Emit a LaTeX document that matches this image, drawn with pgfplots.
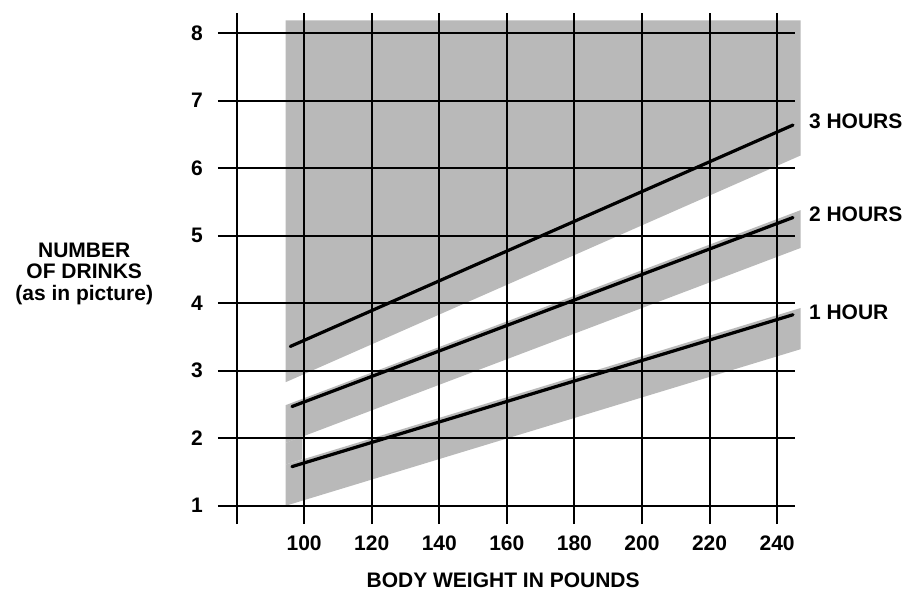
\documentclass[border=0pt]{standalone}
\usepackage{fontspec}
\setmainfont{Liberation Sans}
\usepackage{pgfplots}
\pgfplotsset{compat=1.18}
\definecolor{band}{RGB}{185,185,185}
\newcommand\lab{\fontsize{21bp}{25bp}\selectfont\bfseries}
\begin{document}
\begin{tikzpicture}
\useasboundingbox (-218bp,-70bp) rectangle (693bp,524bp);
\begin{axis}[at={(0,0)}, anchor=south west, scale only axis, width=577bp, height=511bp,
 xmin=74.5, xmax=245.3, ymin=0.73, ymax=8.3,
 xtick={80,100,...,240}, xticklabels={{},100,120,140,160,180,200,220,240},
 ytick={1,...,8}, yticklabels={1,2,3,4,5,6,7,8},
 grid=major, major grid style={black, line width=2bp},
 major tick length=0pt, axis line style={draw=none},
 axis on top, clip=false,
 xticklabel style={font=\lab, anchor=north, inner sep=0pt, yshift=-11.5bp},
 yticklabel style={font=\lab, anchor=east, inner sep=0pt, xshift=-15bp},
]
% grey shading
\addplot[fill=band, draw=none] coordinates {(94.5,8.19) (247,8.19) (247,6.19) (94.5,2.83)} -- cycle;
\addplot[fill=band, draw=none] coordinates {(94.5,2.49) (247,5.38) (247,4.82) (94.5,1.93)} -- cycle;
\addplot[fill=band, draw=none] coordinates {(94.5,1.61) (247,3.93) (247,3.32) (94.5,1.0)} -- cycle;
\addplot[fill=band, draw=none] coordinates {(94.5,1.93) (99.5,2.03) (99.5,1.69) (94.5,1.61)} -- cycle;
% lines
\addplot[black, line width=3.2bp, line cap=round] coordinates {(95.9,3.36) (244.7,6.64)};
\addplot[black, line width=3.2bp, line cap=round] coordinates {(96.4,2.47) (244.7,5.27)};
\addplot[black, line width=3.2bp, line cap=round] coordinates {(96.4,1.58) (244.7,3.83)};
% labels
\node[anchor=base west, inner sep=0pt, font=\lab] at (axis cs:249.4,6.584) {3 HOURS};
\node[anchor=base west, inner sep=0pt, font=\lab] at (axis cs:249.4,5.209) {2 HOURS};
\node[anchor=base west, inner sep=0pt, font=\lab] at (axis cs:249.4,3.759) {1 HOUR};
\node[anchor=base, inner sep=0pt, font=\lab] at (axis cs:34.9,4.676) {NUMBER};
\node[anchor=base, inner sep=0pt, font=\lab] at (axis cs:34.9,4.365) {OF DRINKS};
\node[anchor=base, inner sep=0pt, font=\lab] at (axis cs:34.9,4.04) {(as in picture)};
\node[anchor=base, inner sep=0pt, font=\lab] at (axis cs:158.9,-0.218) {BODY WEIGHT IN POUNDS};
\end{axis}
\end{tikzpicture}
\end{document}
